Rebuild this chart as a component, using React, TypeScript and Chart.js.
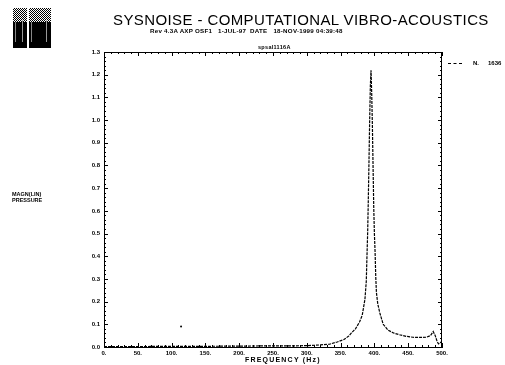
import React, { useEffect, useRef } from "react";
import { Chart, registerables } from "chart.js";

Chart.register(...registerables);

// Frequency response (Hz) and magnitude (linear pressure)
const freqs = [0, 20, 50, 100, 150, 200, 250, 280, 300, 320, 334, 345, 355, 362, 366, 372, 378, 382, 386, 388, 389, 390, 391, 392, 393, 394, 395, 396, 397, 398, 399, 400, 401, 402, 403, 405, 408, 413, 420, 428, 437, 447, 457, 467, 477, 483, 487, 490, 493, 495, 498, 500];
const mags = [0.002, 0.002, 0.002, 0.003, 0.003, 0.004, 0.005, 0.005, 0.006, 0.009, 0.013, 0.022, 0.033, 0.048, 0.062, 0.08, 0.11, 0.14, 0.21, 0.29, 0.4, 0.5, 0.65, 0.82, 1.0, 1.15, 1.22, 1.12, 0.98, 0.8, 0.62, 0.5, 0.42, 0.31, 0.24, 0.19, 0.15, 0.1, 0.075, 0.062, 0.054, 0.047, 0.043, 0.042, 0.043, 0.05, 0.068, 0.05, 0.022, 0.014, 0.02, 0.026];
const strayFreq = [114];
const strayVal = [0.09];

const xTickStep = 50;
const yTickStep = 0.1;
const xMax = 500;
const yMax = 1.3;

const titleText = "SYSNOISE - COMPUTATIONAL VIBRO-ACOUSTICS";
const subtitleText = "Rev 4.3A AXP OSF1   1-JUL-97  DATE   18-NOV-1999 04:39:48";
const chartTitle = "spsal1116A";
const yLabelLines = ["MAGN(LIN)", "PRESSURE"];
const xLabel = "FREQUENCY (Hz)";
const legendName = "N.";
const legendValue = "1636";

const FONT = "'Liberation Sans', Arial, sans-serif";

const framePlugin = {
  id: "frame",
  afterDraw(chart: any) {
    const { ctx, chartArea: a, scales } = chart;
    const xs = scales.x;
    const ys = scales.y;
    ctx.save();
    ctx.strokeStyle = "#000";
    ctx.lineWidth = 1;
    ctx.beginPath();
    ctx.moveTo(a.left, a.top + 0.5);
    ctx.lineTo(a.right, a.top + 0.5);
    ctx.moveTo(a.right - 0.5, a.top);
    ctx.lineTo(a.right - 0.5, a.bottom);
    for (let i = 0; i <= xMax / 10; i++) {
      const px = Math.round(xs.getPixelForValue(i * 10)) + 0.5;
      const len = i % 5 === 0 ? 4 : 2;
      ctx.moveTo(px, a.bottom);
      ctx.lineTo(px, a.bottom - len);
      ctx.moveTo(px, a.top);
      ctx.lineTo(px, a.top + len);
    }
    const nY = Math.round(yMax / 0.02);
    for (let i = 0; i <= nY; i++) {
      const py = Math.round(ys.getPixelForValue(i * 0.02)) + 0.5;
      const len = i % 5 === 0 ? 4 : 2;
      ctx.moveTo(a.left, py);
      ctx.lineTo(a.left + len, py);
      ctx.moveTo(a.right, py);
      ctx.lineTo(a.right - len, py);
    }
    ctx.stroke();
    ctx.restore();
  },
};

function Logo() {
  const dither = "repeating-conic-gradient(#000 0 25%, #fff 0 50%) 0 0 / 2px 2px";
  const col = (left: number, width: number) => (
    <div style={{ position: "absolute", left, top: 0, width, height: 40, background: "#000" }}>
      <div style={{ position: "absolute", left: 0, top: 0, width, height: 14, background: dither }} />
      <div style={{ position: "absolute", left: 2, top: 14, width: 1, height: 20, background: "#888" }} />
      <div style={{ position: "absolute", left: width - 5, top: 12, width: 1, height: 22, background: "#999" }} />
    </div>
  );
  return (
    <div style={{ position: "absolute", left: 13, top: 8, width: 38, height: 40 }}>
      {col(0, 14)}
      {col(16, 22)}
    </div>
  );
}

export default function App() {
  const ref = useRef<HTMLCanvasElement | null>(null);

  useEffect(() => {
    if (!ref.current) return;
    const chart = new Chart(ref.current, {
      type: "line",
      data: {
        datasets: [
          {
            data: freqs.map((f, i) => ({ x: f, y: mags[i] })),
            borderColor: "#000",
            borderWidth: 1.2,
            borderDash: [3, 1],
            pointRadius: 0,
            tension: 0,
            fill: false,
          },
          {
            type: "scatter",
            data: strayFreq.map((f, i) => ({ x: f, y: strayVal[i] })),
            pointRadius: 1,
            pointBackgroundColor: "#000",
            pointBorderWidth: 0,
            showLine: false,
          } as any,
        ],
      },
      options: {
        responsive: false,
        animation: false,
        layout: { padding: { left: 82, right: 63, top: 52, bottom: 6 } },
        plugins: { legend: { display: false }, tooltip: { enabled: false } },
        scales: {
          x: {
            type: "linear",
            min: 0,
            max: xMax,
            grid: { display: false, drawTicks: false },
            border: { display: true, color: "#000", width: 1 },
            ticks: {
              stepSize: xTickStep,
              maxRotation: 0,
              autoSkip: false,
              padding: 3,
              color: "#000",
              font: { family: FONT, size: 6, weight: "bold" },
              callback: (v: any) => `${Math.round(Number(v))}.`,
            },
            afterFit: (s: any) => {
              s.height = 12;
            },
          },
          y: {
            min: 0,
            max: yMax,
            grid: { display: false, drawTicks: false },
            border: { display: true, color: "#000", width: 1 },
            ticks: {
              stepSize: yTickStep,
              autoSkip: false,
              padding: 4,
              color: "#000",
              font: { family: FONT, size: 6, weight: "bold" },
              callback: (v: any) => Number(v).toFixed(1),
            },
            afterFit: (s: any) => {
              s.width = 22;
            },
          },
        },
      },
      plugins: [framePlugin],
    });
    return () => chart.destroy();
  }, []);

  const txt: React.CSSProperties = { position: "absolute", fontFamily: FONT, color: "#000", whiteSpace: "pre", lineHeight: 1 };

  return (
    <div style={{ position: "fixed", left: 0, top: 0, width: 505, height: 365, background: "#fff", overflow: "hidden" }}>
      <canvas ref={ref} width={505} height={365} style={{ position: "absolute", left: 0, top: 0 }} />
      <Logo />
      <div style={{ ...txt, left: 113, top: 12, fontSize: 15, letterSpacing: 0.4 }}>{titleText}</div>
      <div style={{ ...txt, left: 150, top: 28, fontSize: 6.2, fontWeight: "bold", letterSpacing: 0.25 }}>{subtitleText}</div>
      <div style={{ ...txt, left: 258, top: 45, fontSize: 5.5, fontWeight: "bold", letterSpacing: 0.3 }}>{chartTitle}</div>
      <div style={{ ...txt, left: 12, top: 191, fontSize: 5.5, fontWeight: "bold", lineHeight: "6px" }}>
        {yLabelLines.join("\n")}
      </div>
      <div style={{ ...txt, left: 245, top: 356, fontSize: 7, fontWeight: "bold", letterSpacing: 1.2 }}>{xLabel}</div>
      <div style={{ position: "absolute", left: 448, top: 63, width: 14, borderTop: "1px dashed #000" }} />
      <div style={{ ...txt, left: 473, top: 60, fontSize: 6, fontWeight: "bold" }}>{legendName}</div>
      <div style={{ ...txt, left: 488, top: 60, fontSize: 6, fontWeight: "bold" }}>{legendValue}</div>
    </div>
  );
}
